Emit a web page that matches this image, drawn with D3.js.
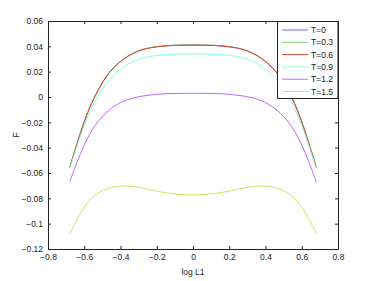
<!DOCTYPE html>
<html>
<head>
<meta charset="utf-8">
<script src="https://cdn.jsdelivr.net/npm/d3@7"></script>
<style>
  body { margin: 0; background: #fff; }
  text { font-family: "Liberation Sans", Arial, sans-serif; }
</style>
</head>
<body>
<script>
// data
var logL1 = [-0.68, -0.64, -0.60, -0.56, -0.52, -0.48, -0.44, -0.40, -0.36, -0.32, -0.28, -0.24,
             -0.20, -0.16, -0.12, -0.08, -0.04, 0, 0.04, 0.08, 0.12, 0.16, 0.20, 0.24,
             0.28, 0.32, 0.36, 0.40, 0.44, 0.48, 0.52, 0.56, 0.60, 0.64, 0.68];

var fT0 = [-0.0555, -0.0370, -0.0195, -0.0050, 0.0062, 0.0158, 0.0228, 0.0280, 0.0322, 0.0352, 0.0374, 0.0388,
           0.0397, 0.0403, 0.0407, 0.0409, 0.0410, 0.0410, 0.0410, 0.0409, 0.0407, 0.0403, 0.0397, 0.0388,
           0.0374, 0.0352, 0.0322, 0.0280, 0.0228, 0.0158, 0.0062, -0.0050, -0.0195, -0.0370, -0.0555];
var fT03 = [-0.0553, -0.0368, -0.0193, -0.0049, 0.0063, 0.0159, 0.0229, 0.0281, 0.0323, 0.0353, 0.0375, 0.0389,
            0.0398, 0.0404, 0.0408, 0.0410, 0.0411, 0.0411, 0.0411, 0.0410, 0.0408, 0.0404, 0.0398, 0.0389,
            0.0375, 0.0353, 0.0323, 0.0281, 0.0229, 0.0159, 0.0063, -0.0049, -0.0193, -0.0368, -0.0553];
var fT06 = [-0.0555, -0.0371, -0.0196, -0.0051, 0.0061, 0.0157, 0.0227, 0.0279, 0.0321, 0.0351, 0.0373, 0.0387,
            0.0396, 0.0402, 0.0406, 0.0408, 0.0409, 0.0409, 0.0409, 0.0408, 0.0406, 0.0402, 0.0396, 0.0387,
            0.0373, 0.0351, 0.0321, 0.0279, 0.0227, 0.0157, 0.0061, -0.0051, -0.0196, -0.0371, -0.0555];
var fT09 = [-0.0565, -0.0390, -0.0225, -0.0090, 0.0017, 0.0105, 0.0170, 0.0220, 0.0258, 0.0286, 0.0306, 0.0320,
            0.0328, 0.0334, 0.0337, 0.0339, 0.0340, 0.0340, 0.0340, 0.0339, 0.0337, 0.0334, 0.0328, 0.0320,
            0.0306, 0.0286, 0.0258, 0.0220, 0.0170, 0.0105, 0.0017, -0.0090, -0.0225, -0.0390, -0.0565];
var fT12 = [-0.0670, -0.0515, -0.0380, -0.0268, -0.0188, -0.0125, -0.0078, -0.0045, -0.0020, -0.0004, 0.0007, 0.0015,
            0.0021, 0.0025, 0.0027, 0.0028, 0.0029, 0.0029, 0.0029, 0.0028, 0.0027, 0.0025, 0.0021, 0.0015,
            0.0007, -0.0004, -0.0020, -0.0045, -0.0078, -0.0125, -0.0188, -0.0268, -0.0380, -0.0515, -0.0670];
var fT15 = [-0.1080, -0.0965, -0.0870, -0.0800, -0.0755, -0.0727, -0.0711, -0.0704, -0.0703, -0.0709, -0.0719, -0.0731,
            -0.0743, -0.0753, -0.0762, -0.0768, -0.0772, -0.0773, -0.0772, -0.0768, -0.0762, -0.0753, -0.0743, -0.0731,
            -0.0719, -0.0709, -0.0703, -0.0704, -0.0711, -0.0727, -0.0755, -0.0800, -0.0870, -0.0965, -0.1080];

var seriesNames = ["T=0", "T=0.3", "T=0.6", "T=0.9", "T=1.2", "T=1.5"];
var seriesValues = [fT0, fT03, fT06, fT09, fT12, fT15];
var seriesColors = ["#6a6aff", "#7fd36f", "#e0453a", "#8affd6", "#b46aff", "#d4e05e"];

var xTicks = [-0.8, -0.6, -0.4, -0.2, 0, 0.2, 0.4, 0.6, 0.8];
var yTicks = [0.06, 0.04, 0.02, 0, -0.02, -0.04, -0.06, -0.08, -0.1, -0.12];

var margin = {top: 21, right: 36, bottom: 32, left: 48},
    width = 374 - margin.left - margin.right,
    height = 281 - margin.top - margin.bottom;

var svg = d3.select("body").append("svg")
    .attr("width", 374)
    .attr("height", 281);

svg.append("rect").attr("width", 374).attr("height", 281).attr("fill", "#fff");

var g = svg.append("g")
    .attr("transform", "translate(" + margin.left + "," + margin.top + ")");

var x = d3.scaleLinear().domain([-0.8, 0.8]).range([0, width]);
var y = d3.scaleLinear().domain([-0.12, 0.06]).range([height, 0]);

function fmt(v) {
  var s = d3.format("")(+v.toFixed(2));
  return s.replace("-", "\u2212");
}

// axes with inward ticks on all four sides
var xAxis = d3.axisBottom(x).tickValues(xTicks).tickSizeInner(-3).tickSizeOuter(0).tickPadding(5).tickFormat(fmt);
var yAxis = d3.axisLeft(y).tickValues(yTicks).tickSizeInner(-3).tickSizeOuter(0).tickPadding(5).tickFormat(fmt);
var xTop = d3.axisTop(x).tickValues(xTicks).tickSizeInner(-3).tickSizeOuter(0).tickFormat("");
var yRight = d3.axisRight(y).tickValues(yTicks).tickSizeInner(-3).tickSizeOuter(0).tickFormat("");

// curves
var line = d3.line()
    .x(function(d) { return x(d[0]); })
    .y(function(d) { return y(d[1]); })
    .curve(d3.curveCatmullRom);

seriesValues.forEach(function(vals, i) {
  g.append("path")
    .datum(logL1.map(function(v, j) { return [v, vals[j]]; }))
    .attr("fill", "none")
    .attr("stroke", seriesColors[i])
    .attr("stroke-width", 1)
    .attr("d", line);
});

[["translate(0," + height + ")", xAxis], ["translate(0,0)", yAxis],
 ["translate(0,0)", xTop], ["translate(" + width + ",0)", yRight]].forEach(function(a) {
  var ax = g.append("g").attr("transform", a[0]).call(a[1]);
  ax.select(".domain").attr("stroke", "#222");
  ax.selectAll(".tick line").attr("stroke", "#222");
  ax.selectAll("text").attr("fill", "#222").style("font-size", "8.5px");
});

// axis labels
g.append("text")
    .attr("x", width / 2)
    .attr("y", height + 26)
    .attr("text-anchor", "middle")
    .style("font-size", "8.5px")
    .attr("fill", "#222")
    .text("log L1");

g.append("text")
    .attr("transform", "translate(" + (-29) + "," + (height / 2) + ") rotate(-90)")
    .attr("text-anchor", "middle")
    .style("font-size", "8.5px")
    .attr("fill", "#222")
    .text("F");

// legend
var legW = 61, legH = 77;
var leg = g.append("g").attr("transform", "translate(" + (width - legW) + ",0)");
leg.append("rect")
    .attr("x", 0.5).attr("y", 0.5)
    .attr("width", legW - 0.5).attr("height", legH)
    .attr("fill", "#fff")
    .attr("stroke", "#222");

seriesNames.forEach(function(name, i) {
  var yy = 9 + i * 12.3;
  leg.append("line")
    .attr("x1", 5).attr("x2", 31)
    .attr("y1", yy).attr("y2", yy)
    .attr("stroke", seriesColors[i])
    .attr("stroke-width", 1);
  leg.append("text")
    .attr("x", 34).attr("y", yy + 3)
    .style("font-size", "8.5px")
    .attr("fill", "#222")
    .text(name);
});
</script>
</body>
</html>
